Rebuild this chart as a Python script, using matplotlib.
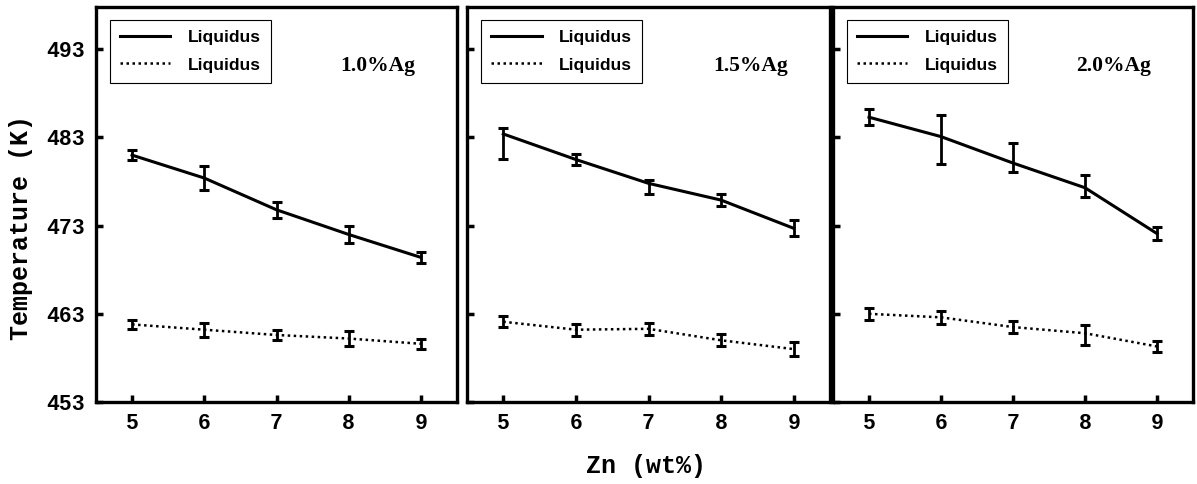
"""Liquidus temperature vs Zn content for three Ag levels."""
import matplotlib.pyplot as plt
import numpy as np

zn = [5, 6, 7, 8, 9]
panels = ['1.0%Ag', '1.5%Ag', '2.0%Ag']

# solid curve: value, lower err, upper err
solid = [
    [481.0, 478.4, 474.8, 472.0, 469.4],
    [483.4, 480.5, 477.8, 475.9, 472.7],
    [485.3, 483.1, 480.1, 477.3, 472.1],
]
solid_lo = [
    [0.6, 1.4, 0.9, 1.0, 0.6],
    [2.8, 0.6, 1.2, 0.7, 0.9],
    [0.9, 3.1, 1.0, 1.1, 0.7],
]
solid_hi = [
    [0.6, 1.4, 0.9, 1.0, 0.6],
    [0.7, 0.6, 0.4, 0.7, 0.9],
    [0.9, 2.5, 2.3, 1.5, 0.7],
]

# dotted curve
dotted = [
    [461.8, 461.2, 460.6, 460.2, 459.6],
    [462.1, 461.2, 461.3, 460.0, 459.0],
    [463.0, 462.6, 461.5, 460.8, 459.3],
]
dotted_lo = [
    [0.5, 0.8, 0.6, 0.9, 0.6],
    [0.6, 0.7, 0.7, 0.7, 0.8],
    [0.7, 0.7, 0.7, 1.3, 0.6],
]
dotted_hi = [
    [0.5, 0.8, 0.6, 0.9, 0.6],
    [0.6, 0.7, 0.7, 0.7, 0.8],
    [0.7, 0.7, 0.7, 0.9, 0.6],
]

yticks = [453, 463, 473, 483, 493]
legend_labels = ['Liquidus', 'Liquidus']

mono = 'Liberation Mono'

fig = plt.figure(figsize=(11.97, 4.84), dpi=100)
lefts = [96, 467, 833]
widths = [361, 363, 360]

for i in range(3):
    ax = fig.add_axes([lefts[i] / 1197, 1 - 402 / 484, widths[i] / 1197, 395 / 484])
    e1 = ax.errorbar(zn, solid[i], yerr=[solid_lo[i], solid_hi[i]], color='black',
                     lw=2.2, elinewidth=2, capsize=3.5, capthick=2.2,
                     label=legend_labels[0])
    e2 = ax.errorbar(zn, dotted[i], yerr=[dotted_lo[i], dotted_hi[i]], color='black',
                     lw=1.8, ls=(0, (1, 1.4)), elinewidth=2, capsize=3.5, capthick=2.2,
                     label=legend_labels[1])
    ax.set_xlim(4.5, 9.5)
    ax.set_ylim(453, 497.8)
    ax.set_xticks(zn)
    ax.set_yticks(yticks)
    ax.tick_params(direction='in', length=5, width=2.5, pad=8)
    for s in ax.spines.values():
        s.set_linewidth(2.4)
    for lab in ax.get_xticklabels():
        lab.set_fontfamily(mono)
        lab.set_fontweight('bold')
        lab.set_fontsize(15.5)
    if i == 0:
        for lab in ax.get_yticklabels():
            lab.set_fontfamily(mono)
            lab.set_fontweight('bold')
            lab.set_fontsize(15.5)
    else:
        ax.set_yticklabels([])
    leg = ax.legend(handles=[e1.lines[0], e2.lines[0]], labels=legend_labels,
                    loc='upper left', bbox_to_anchor=(0.038, 0.968), borderaxespad=0,
                    fancybox=False, edgecolor='black', framealpha=1, handlelength=2.9,
                    prop={'family': 'Liberation Sans', 'weight': 'bold', 'size': 12.5},
                    borderpad=0.6, labelspacing=0.7, handletextpad=1.0)
    leg.get_frame().set_linewidth(0.8)
    ax.text(0.78, 0.85, panels[i], transform=ax.transAxes, ha='center', va='center',
            fontsize=15.5, fontweight='bold', fontfamily='Liberation Serif')

fig.text(21 / 1197, 1 - 227 / 484, 'Temperature (K)', rotation=90, ha='center',
         va='center', fontsize=18, fontweight='bold', fontfamily=mono)
fig.text(646 / 1197, 1 - 466 / 484, 'Zn (wt%)', ha='center', va='center',
         fontsize=18, fontweight='bold', fontfamily=mono)

fig.savefig('out.png', dpi=100)
